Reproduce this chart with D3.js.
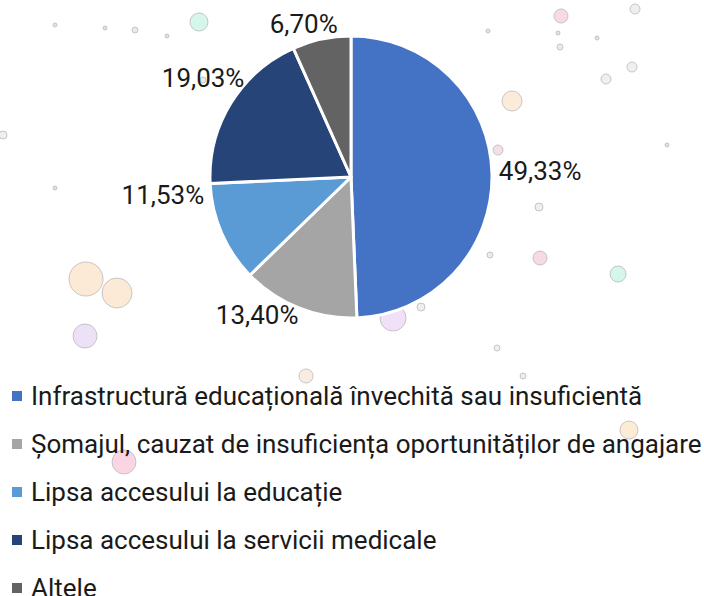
<!DOCTYPE html>
<html>
<head>
<meta charset="utf-8">
<script src="https://cdn.jsdelivr.net/npm/d3@7/dist/d3.min.js"></script>
<style>
  html, body { margin: 0; padding: 0; background: #ffffff; }
  svg { display: block; }
  text { font-family: Roboto, "Noto Sans", sans-serif; fill: #1a1a1a; }
</style>
</head>
<body>
<svg id="chart" width="704" height="596"></svg>
<script>
// Causes and their shares (percent)
const categories = [
  "Infrastructură educațională învechită sau insuficientă",
  "Șomajul, cauzat de insuficiența oportunităților de angajare",
  "Lipsa accesului la educație",
  "Lipsa accesului la servicii medicale",
  "Altele"
];
const values = [49.33, 13.40, 11.53, 19.03, 6.70];
const colors = ["#4472C4", "#A5A5A5", "#5B9BD5", "#264478", "#636363"];

// Best-fit rotation of each percent label around the pie (degrees)
const labelTurn = [-1, 8, 17, 7, -3];

// Decorative background bubbles: [x, y, r, fill]
const bubbles = [
  [199, 22, 9, "#cdf5e8"], [561, 16, 7, "#f7d3dd"], [635, 9, 5, "#ececec"],
  [512, 101, 10, "#fbe8d2"], [606, 79, 5, "#ececec"], [632, 67, 5, "#ececec"],
  [86, 279, 17, "#fde6cf"], [117, 293, 15, "#fde6cf"], [85, 336, 12, "#eadcf7"],
  [393, 318, 13, "#efdcf7"], [540, 258, 7, "#f7d3dd"], [618, 274, 8, "#cdf5e8"],
  [498, 150, 5, "#f0dde3"], [539, 207, 4, "#ececec"], [306, 376, 7, "#f8eadc"],
  [629, 430, 9, "#fbe9cf"], [124, 462, 12, "#f9cfe0"], [421, 307, 4, "#ececec"],
  [3, 135, 4, "#ececec"], [497, 348, 3, "#ececec"], [523, 376, 3, "#ececec"],
  [55, 25, 2, "#dddddd"], [105, 28, 2, "#dddddd"], [135, 30, 3, "#e6e6e6"],
  [167, 36, 2, "#dddddd"], [488, 31, 2, "#dddddd"], [560, 47, 3, "#e6e6e6"],
  [558, 33, 2, "#dddddd"], [597, 38, 2, "#dddddd"], [203, 80, 3, "#e6e6e6"],
  [490, 255, 3, "#e6e6e6"], [55, 188, 2, "#dddddd"], [667, 145, 2, "#dddddd"]
];

const svg = d3.select("#chart");

svg.append("g")
  .selectAll("circle")
  .data(bubbles)
  .join("circle")
  .attr("cx", d => d[0])
  .attr("cy", d => d[1])
  .attr("r", d => d[2])
  .attr("fill", d => d[3])
  .attr("fill-opacity", 0.85)
  .attr("stroke", "#b9b9b9")
  .attr("stroke-width", 0.8);

// Pie
const cx = 351, cy = 177, radius = 141;
const data = categories.map((c, i) => ({ name: c, value: values[i], color: colors[i], turn: labelTurn[i] }));

const pie = d3.pie().sort(null).value(d => d.value);
const arcs = pie(data);
const arc = d3.arc().innerRadius(0).outerRadius(radius);

const g = svg.append("g").attr("transform", `translate(${cx},${cy})`);

g.selectAll("path")
  .data(arcs)
  .join("path")
  .attr("d", arc)
  .attr("fill", d => d.data.color)
  .attr("stroke", "#ffffff")
  .attr("stroke-width", 3)
  .attr("stroke-linejoin", "round");

// Percent labels outside each slice, pushed outward by their own box size
const fmt = v => v.toFixed(2).replace(".", ",") + "%";
const labelFont = 26;
const labels = g.selectAll("text.pct")
  .data(arcs)
  .join("text")
  .attr("class", "pct")
  .attr("font-size", labelFont)
  .attr("text-anchor", "middle")
  .attr("dominant-baseline", "central")
  .text(d => fmt(d.data.value));

labels.each(function(d) {
  const a = (d.startAngle + d.endAngle) / 2 + d.data.turn * Math.PI / 180;
  const s = Math.sin(a), c = -Math.cos(a);
  const w = this.getComputedTextLength();
  const h = labelFont * 0.8;
  const r0 = radius + 7;
  const x = r0 * s + (w / 2) * s;
  const y = r0 * c + (h / 2) * c;
  d3.select(this).attr("x", x).attr("y", y);
});

// Legend
const legendTop = 396, legendStep = 48;
const legend = svg.append("g");
const rows = legend.selectAll("g")
  .data(data)
  .join("g")
  .attr("transform", (d, i) => `translate(0,${legendTop + i * legendStep})`);

rows.append("rect")
  .attr("x", 12).attr("y", -5)
  .attr("width", 10).attr("height", 10)
  .attr("fill", d => d.color);

rows.append("text")
  .attr("x", 31)
  .attr("y", 0)
  .attr("dominant-baseline", "central")
  .attr("font-size", 26)
  .text(d => d.name);
</script>
</body>
</html>
